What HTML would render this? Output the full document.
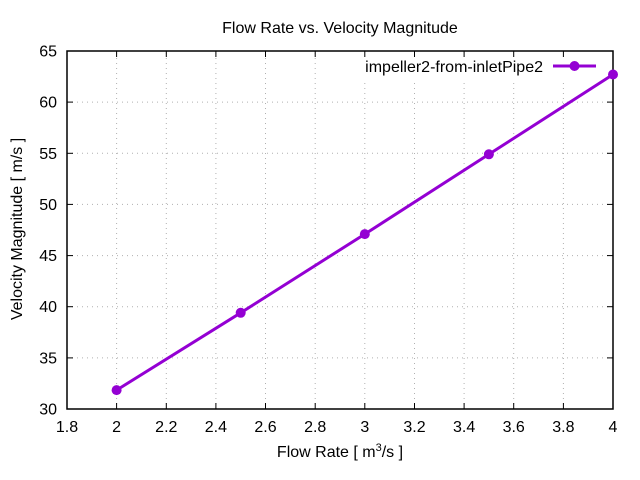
<!DOCTYPE html>
<html>
<head>
<meta charset="utf-8">
<style>
html,body{margin:0;padding:0;background:#fff;}
svg{display:block;}
text{font-family:"Liberation Sans",Arial,sans-serif;fill:#000;}
</style>
</head>
<body>
<svg width="640" height="480" viewBox="0 0 640 480" xmlns="http://www.w3.org/2000/svg">
<rect width="640" height="480" fill="#fff"/>
<!-- grid -->
<g stroke="#b0b0b0" stroke-width="1" stroke-dasharray="1,4" fill="none">
<line x1="116.6" y1="409" x2="116.6" y2="51"/>
<line x1="166.3" y1="409" x2="166.3" y2="51"/>
<line x1="215.9" y1="409" x2="215.9" y2="51"/>
<line x1="265.5" y1="409" x2="265.5" y2="51"/>
<line x1="315.2" y1="409" x2="315.2" y2="51"/>
<line x1="364.8" y1="409" x2="364.8" y2="51"/>
<line x1="414.5" y1="409" x2="414.5" y2="51"/>
<line x1="464.1" y1="409" x2="464.1" y2="51"/>
<line x1="513.7" y1="409" x2="513.7" y2="51"/>
<line x1="563.4" y1="409" x2="563.4" y2="51"/>
<line x1="67" y1="357.9" x2="613" y2="357.9"/>
<line x1="67" y1="306.7" x2="613" y2="306.7"/>
<line x1="67" y1="255.6" x2="613" y2="255.6"/>
<line x1="67" y1="204.4" x2="613" y2="204.4"/>
<line x1="67" y1="153.3" x2="613" y2="153.3"/>
<line x1="67" y1="102.1" x2="613" y2="102.1"/>
</g>
<!-- opaque key background -->
<rect x="360" y="53" width="250" height="27" fill="#fff"/>
<!-- ticks -->
<g stroke="#000" stroke-width="1">
<line x1="116.6" y1="409" x2="116.6" y2="403"/><line x1="116.6" y1="51" x2="116.6" y2="57"/>
<line x1="166.3" y1="409" x2="166.3" y2="403"/><line x1="166.3" y1="51" x2="166.3" y2="57"/>
<line x1="215.9" y1="409" x2="215.9" y2="403"/><line x1="215.9" y1="51" x2="215.9" y2="57"/>
<line x1="265.5" y1="409" x2="265.5" y2="403"/><line x1="265.5" y1="51" x2="265.5" y2="57"/>
<line x1="315.2" y1="409" x2="315.2" y2="403"/><line x1="315.2" y1="51" x2="315.2" y2="57"/>
<line x1="364.8" y1="409" x2="364.8" y2="403"/><line x1="364.8" y1="51" x2="364.8" y2="57"/>
<line x1="414.5" y1="409" x2="414.5" y2="403"/><line x1="414.5" y1="51" x2="414.5" y2="57"/>
<line x1="464.1" y1="409" x2="464.1" y2="403"/><line x1="464.1" y1="51" x2="464.1" y2="57"/>
<line x1="513.7" y1="409" x2="513.7" y2="403"/><line x1="513.7" y1="51" x2="513.7" y2="57"/>
<line x1="563.4" y1="409" x2="563.4" y2="403"/><line x1="563.4" y1="51" x2="563.4" y2="57"/>
<line x1="67" y1="357.9" x2="73" y2="357.9"/><line x1="613" y1="357.9" x2="607" y2="357.9"/>
<line x1="67" y1="306.7" x2="73" y2="306.7"/><line x1="613" y1="306.7" x2="607" y2="306.7"/>
<line x1="67" y1="255.6" x2="73" y2="255.6"/><line x1="613" y1="255.6" x2="607" y2="255.6"/>
<line x1="67" y1="204.4" x2="73" y2="204.4"/><line x1="613" y1="204.4" x2="607" y2="204.4"/>
<line x1="67" y1="153.3" x2="73" y2="153.3"/><line x1="613" y1="153.3" x2="607" y2="153.3"/>
<line x1="67" y1="102.1" x2="73" y2="102.1"/><line x1="613" y1="102.1" x2="607" y2="102.1"/>
</g>
<!-- border -->
<rect x="67" y="51" width="546" height="358" fill="none" stroke="#000" stroke-width="1.5"/>
<!-- y tick labels -->
<g font-size="16" text-anchor="end">
<text x="57" y="414.5">30</text>
<text x="57" y="363.4">35</text>
<text x="57" y="312.2">40</text>
<text x="57" y="261.1">45</text>
<text x="57" y="209.9">50</text>
<text x="57" y="158.8">55</text>
<text x="57" y="107.6">60</text>
<text x="57" y="56.5">65</text>
</g>
<!-- x tick labels -->
<g font-size="16" text-anchor="middle">
<text x="67" y="432">1.8</text>
<text x="116.6" y="432">2</text>
<text x="166.3" y="432">2.2</text>
<text x="215.9" y="432">2.4</text>
<text x="265.5" y="432">2.6</text>
<text x="315.2" y="432">2.8</text>
<text x="364.8" y="432">3</text>
<text x="414.5" y="432">3.2</text>
<text x="464.1" y="432">3.4</text>
<text x="513.7" y="432">3.6</text>
<text x="563.4" y="432">3.8</text>
<text x="613" y="432">4</text>
</g>
<!-- title -->
<text x="340" y="33" font-size="16" text-anchor="middle">Flow Rate vs. Velocity Magnitude</text>
<!-- x label -->
<text x="340" y="457" font-size="16" text-anchor="middle">Flow Rate [ m<tspan font-size="11" dy="-6">3</tspan><tspan dy="6">/s ]</tspan></text>
<!-- y label -->
<text x="22" y="229" font-size="16" text-anchor="middle" transform="rotate(-90 22 229)">Velocity Magnitude [ m/s ]</text>
<!-- series -->
<polyline points="116.6,390.1 240.7,312.8 364.8,234.1 488.9,154.3 613,74.5" fill="none" stroke="#9400d3" stroke-width="3" stroke-linejoin="round"/>
<g fill="#9400d3">
<circle cx="116.6" cy="390.1" r="5"/>
<circle cx="240.7" cy="312.8" r="5"/>
<circle cx="364.8" cy="234.1" r="5"/>
<circle cx="488.9" cy="154.3" r="5"/>
<circle cx="613" cy="74.5" r="5"/>
</g>
<!-- legend -->
<text x="543" y="72" font-size="16" text-anchor="end">impeller2-from-inletPipe2</text>
<line x1="553" y1="66" x2="596" y2="66" stroke="#9400d3" stroke-width="3"/>
<circle cx="574.5" cy="66" r="5" fill="#9400d3"/>
</svg>
</body>
</html>
